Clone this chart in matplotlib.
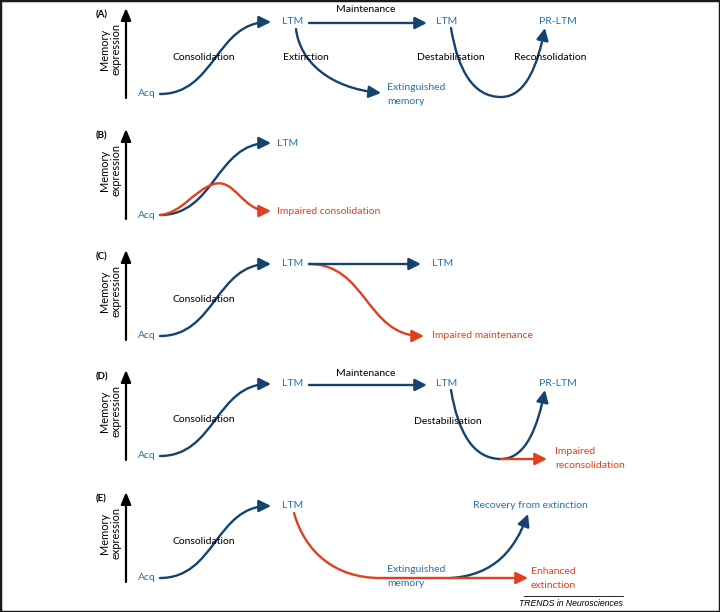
import matplotlib
matplotlib.use('Agg')
import matplotlib.pyplot as plt
from matplotlib.path import Path
from matplotlib.patches import FancyArrowPatch

plt.rcParams['font.family'] = ['Lato', 'DejaVu Sans']

# panel letters and vertical offset of each panel (px)
PANEL_LABELS = ['(A)', '(B)', '(C)', '(D)', '(E)']
PANEL_Y = [0, 121, 242, 362, 484]

# memory levels inside one panel (px from panel top)
HI = 22      # LTM level
LO = 94      # Acq level
MID = 58     # level of process labels

# x positions of nodes
ACQ_X = 138
LTM_X = 282
LTM2_X = 436
PRLTM_X = 539
U_MIN_X = 501

NAVY = '#16426e'
BLUE = '#2673ad'
RED = '#e0401e'
FS = 7.5


def bez(pts):
    codes = [Path.MOVETO] + [Path.CURVE4] * (len(pts) - 1)
    return Path(pts, codes)


def s_curve(x0, y0, x1, y1, k=0.5):
    dx = x1 - x0
    return bez([(x0, y0), (x0 + k * dx, y0), (x1 - k * dx, y1), (x1, y1)])


def hline(x0, x1, y):
    return Path([(x0, y), (x1, y)])


def draw(ax, path, color, head=True):
    style = '-|>,head_length=0.6,head_width=0.3' if head else '-'
    ax.add_patch(FancyArrowPatch(path=path, arrowstyle=style, mutation_scale=12,
                                 color=color, lw=1.7, shrinkA=0, shrinkB=0,
                                 joinstyle='round', capstyle='round'))


def txt(ax, x, y, s, color='black', **kw):
    kw.setdefault('ha', 'left')
    kw.setdefault('va', 'center')
    kw.setdefault('fontsize', FS)
    ax.text(x, y, s, color=color, **kw)


def consolidation(ax, y0, tip=271, label=True):
    draw(ax, s_curve(160, y0 + LO, tip, y0 + HI, k=0.5), NAVY)
    if label:
        txt(ax, 204, y0 + MID, 'Consolidation', ha='center')


def u_curve(ax, y0):
    p = [(451, y0 + 28),
         (458, y0 + 70), (U_MIN_X - 28, y0 + LO + 3), (U_MIN_X, y0 + LO + 3),
         (U_MIN_X + 26, y0 + LO + 3), (538, y0 + 62), (545, y0 + 28)]
    draw(ax, bez(p), NAVY)


fig = plt.figure(figsize=(7.2, 6.12), dpi=100)
ax = fig.add_axes([0, 0, 1, 1])
ax.set_xlim(0, 720)
ax.set_ylim(612, 0)
ax.set_xticks([])
ax.set_yticks([])
for sp in ax.spines.values():
    sp.set_linewidth(2.5)
    sp.set_color('#1a1a1a')

for lab, y0 in zip(PANEL_LABELS, PANEL_Y):
    ax.text(96, y0 + 15, lab, fontsize=7, fontweight='bold', va='center')
    ax.annotate('', xy=(126, y0 + 8), xytext=(126, y0 + 98),
                arrowprops=dict(arrowstyle='-|>,head_length=0.6,head_width=0.25',
                                color='black', lw=1.6, shrinkA=0, shrinkB=0,
                                mutation_scale=12))
    ax.text(110, y0 + 49, 'Memory\nexpression', fontsize=FS + 0.4, rotation=90,
            ha='center', va='center', multialignment='center', linespacing=1.0)
    txt(ax, ACQ_X, y0 + LO, 'Acq', BLUE)

# (A)
y0 = PANEL_Y[0]
consolidation(ax, y0)
txt(ax, LTM_X, y0 + HI, 'LTM', BLUE)
draw(ax, hline(309, 427, y0 + HI + 1), NAVY)
txt(ax, 366, y0 + 10, 'Maintenance', ha='center')
txt(ax, LTM2_X, y0 + HI, 'LTM', BLUE)
txt(ax, PRLTM_X, y0 + HI, 'PR-LTM', BLUE)
draw(ax, bez([(296, y0 + 29), (300, y0 + 62), (330, y0 + 88), (381, y0 + 93)]), NAVY)
txt(ax, 306, y0 + MID, 'Extinction', ha='center')
txt(ax, 387, y0 + 87, 'Extinguished', BLUE)
txt(ax, 387, y0 + 101, 'memory', BLUE)
u_curve(ax, y0)
txt(ax, 451, y0 + MID, 'Destabilisation', ha='center')
txt(ax, 550, y0 + MID, 'Reconsolidation', ha='center')

# (B)
y0 = PANEL_Y[1]
consolidation(ax, y0, label=False)
txt(ax, 277, y0 + HI, 'LTM', BLUE)
draw(ax, bez([(160, y0 + LO), (182, y0 + LO - 2), (194, y0 + 69),
              (214, y0 + 63), (235, y0 + 57), (242, y0 + 90), (271, y0 + 90)]), RED)
txt(ax, 277, y0 + 90, 'Impaired consolidation', RED)

# (C)
y0 = PANEL_Y[2]
consolidation(ax, y0)
txt(ax, LTM_X, y0 + HI, 'LTM', BLUE)
draw(ax, s_curve(309, y0 + HI, 424, y0 + LO, k=0.5), RED)
draw(ax, hline(309, 421, y0 + HI), NAVY)
txt(ax, 432, y0 + HI, 'LTM', BLUE)
txt(ax, 432, y0 + LO, 'Impaired maintenance', RED)

# (D)
y0 = PANEL_Y[3]
consolidation(ax, y0)
txt(ax, LTM_X, y0 + HI, 'LTM', BLUE)
draw(ax, hline(309, 427, y0 + HI + 1), NAVY)
txt(ax, 366, y0 + 11, 'Maintenance', ha='center')
txt(ax, LTM2_X, y0 + HI, 'LTM', BLUE)
txt(ax, PRLTM_X, y0 + HI, 'PR-LTM', BLUE)
u_curve(ax, y0)
txt(ax, 448, y0 + MID + 2, 'Destabilisation', ha='center')
draw(ax, hline(U_MIN_X, 547, y0 + LO + 3), RED)
txt(ax, 555, y0 + 89, 'Impaired', RED)
txt(ax, 555, y0 + 103, 'reconsolidation', RED)

# (E)
y0 = PANEL_Y[4]
consolidation(ax, y0)
txt(ax, LTM_X, y0 + HI, 'LTM', BLUE)
draw(ax, bez([(451, y0 + LO), (495, y0 + LO - 3), (515, y0 + 65), (528, y0 + 30)]), NAVY)
draw(ax, bez([(294, y0 + 29), (305, y0 + 68), (335, y0 + LO), (380, y0 + LO),
              (420, y0 + LO), (480, y0 + LO), (528, y0 + LO)]), RED)
txt(ax, 387, y0 + 86, 'Extinguished', BLUE)
txt(ax, 387, y0 + 100, 'memory', BLUE)
txt(ax, 473, y0 + HI, 'Recovery from extinction', BLUE)
txt(ax, 531, y0 + 88, 'Enhanced', RED)
txt(ax, 531, y0 + 101, 'extinction', RED)
txt(ax, 623, 603, 'TRENDS in Neurosciences', ha='right', fontsize=6.2,
    style='italic', family=['Liberation Sans', 'DejaVu Sans'])
ax.plot([524, 623], [596, 596], color='black', lw=0.6)

fig.savefig('out.png', dpi=100)
